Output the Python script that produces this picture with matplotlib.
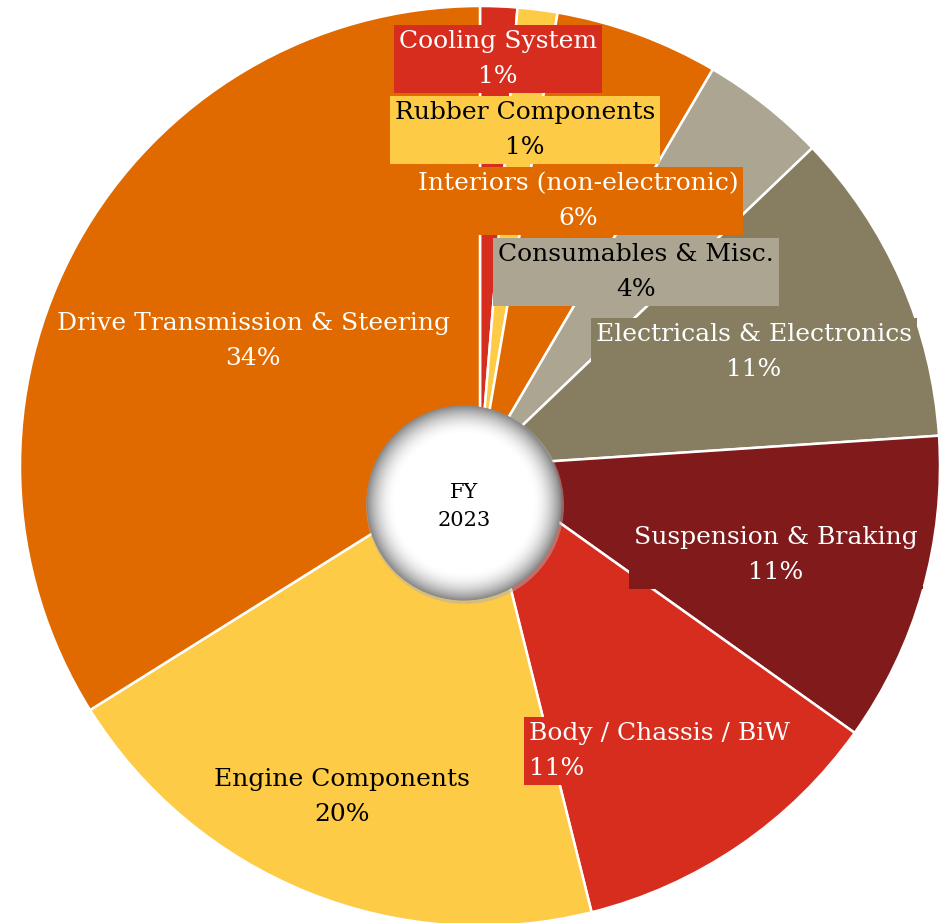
import matplotlib
matplotlib.use("Agg")
import matplotlib.pyplot as plt
import numpy as np
from matplotlib.patches import Circle

# slice data, clockwise from 12 o'clock
categories = [
    "Cooling System",
    "Rubber Components",
    "Interiors (non-electronic)",
    "Consumables & Misc.",
    "Electricals & Electronics",
    "Suspension & Braking",
    "Body / Chassis / BiW",
    "Engine Components",
    "Drive Transmission & Steering",
]
shares = [1.3, 1.4, 5.75, 4.4, 11.1, 10.9, 11.25, 20.0, 33.9]
colors = ["#D72D1F", "#FECB47", "#E06A00", "#ABA591", "#877E62",
          "#801A1B", "#D72D1F", "#FECB47", "#E06A00"]
text_colors = ["white", "black", "white", "black", "white",
               "white", "white", "black", "white"]
center_label = "FY\n2023"

W, H = 947, 923
fig = plt.figure(figsize=(W / 100, H / 100), dpi=100)
ax = fig.add_axes([0, 0, 1, 1])

cx, cy, R = 480, H - 466, 460
ax.pie(shares, colors=colors, startangle=90, counterclock=False,
       center=(cx, cy), radius=R, frame=True,
       wedgeprops=dict(edgecolor="white", linewidth=1.8))
ax.set_xlim(0, W)
ax.set_ylim(0, H)
ax.set_aspect("equal")
ax.axis("off")

# label anchor spots in pixel coords (x, y from top), alignment
spots = [
    (498, 59, "center"),
    (525, 130, "center"),
    (578, 201, "center"),
    (636, 272, "center"),
    (754, 352, "center"),
    (776, 555, "center"),
    (529, 751, "left"),
    (342, 797, "center"),
    (253, 341, "center"),
]
for name, val, col, tcol, (x, y, ha) in zip(categories, shares, colors, text_colors, spots):
    ax.text(x, H - y, f"{name}\n{round(val)}%", ha=ha, va="center",
            multialignment=ha, color=tcol, fontsize=18, family="DejaVu Serif",
            linespacing=1.62, zorder=5,
            bbox=dict(boxstyle="square,pad=0.2", facecolor=col, edgecolor="none"))

# center disc with a soft grey rim
hx, hy, hr = 464, H - 503, 97
shadow = Circle((hx + 1, hy - 2), hr + 2, facecolor="#b0b0b0", edgecolor="none",
                alpha=0.5, zorder=6)
ax.add_patch(shadow)
n = 300
gx, gy = np.meshgrid(np.linspace(-1, 1, n), np.linspace(-1, 1, n))
rr = np.sqrt(gx ** 2 + gy ** 2)
shade = np.clip(1 - 0.45 * np.clip((rr - 0.7) / 0.3, 0, 1) ** 2.0, 0, 1)
img = ax.imshow(shade, cmap="gray", vmin=0, vmax=1, origin="lower",
                extent=(hx - hr, hx + hr, hy - hr, hy + hr), zorder=7,
                interpolation="bilinear")
disc = Circle((hx, hy), hr, transform=ax.transData)
img.set_clip_path(disc)
ax.add_patch(Circle((hx, hy), hr, facecolor="none", edgecolor="#8a8a8a",
                    linewidth=0.8, zorder=8))
ax.text(hx, hy - 3, center_label, ha="center", va="center", fontsize=15,
        family="DejaVu Serif", linespacing=1.6, zorder=9)
ax.set_xlim(0, W)
ax.set_ylim(0, H)

fig.savefig("out.png", dpi=100)
